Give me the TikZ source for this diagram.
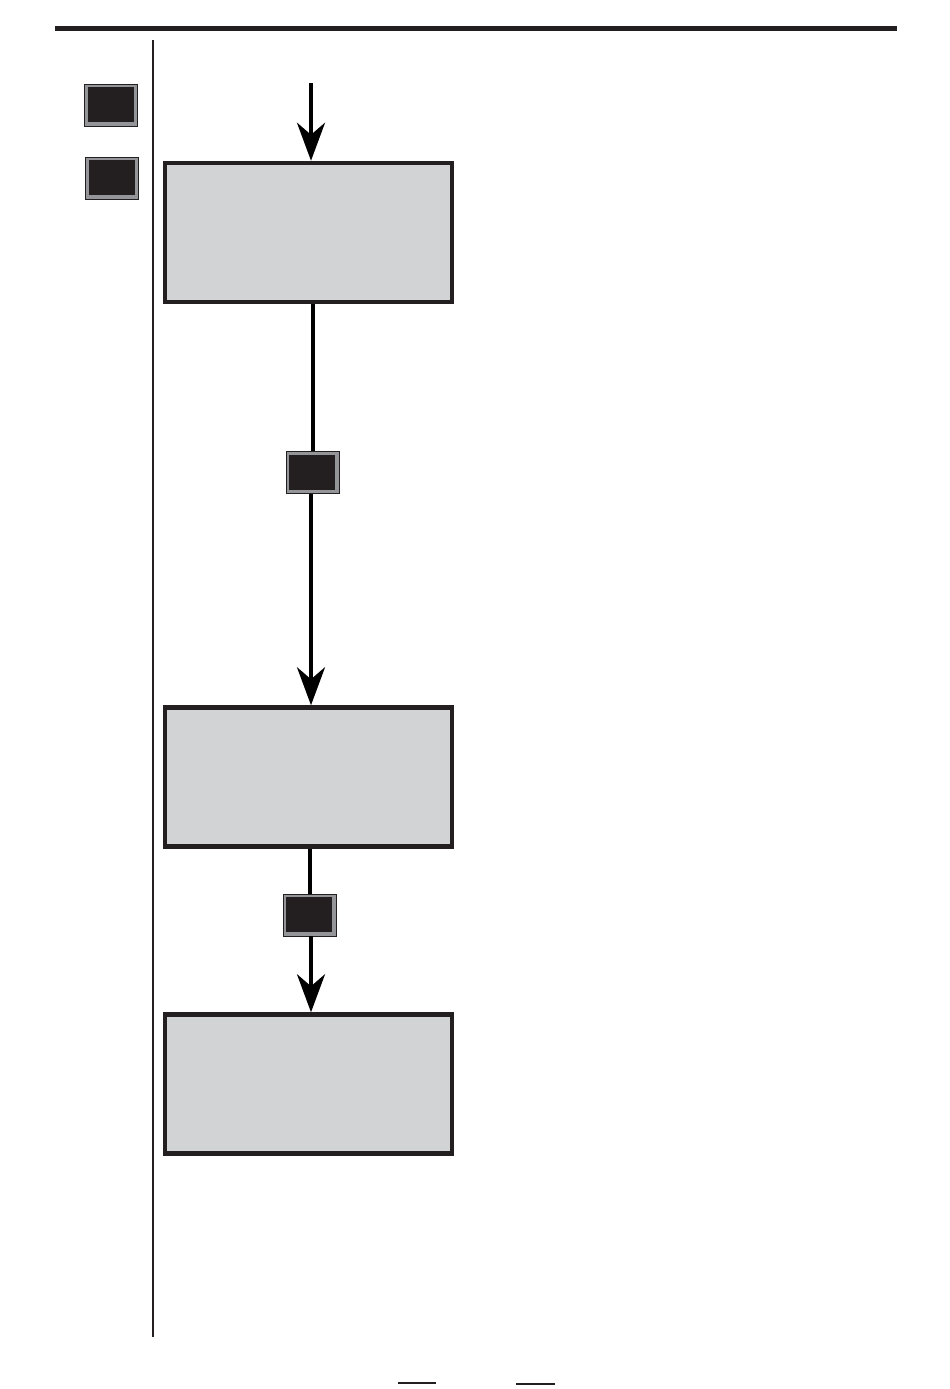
\documentclass[tikz,border=0pt]{standalone}
\usetikzlibrary{arrows.meta}
\definecolor{dark}{HTML}{231F20}
\definecolor{ringgray}{HTML}{939598}
\definecolor{boxgray}{HTML}{D1D3D4}
\tikzset{
  stepbox/.style={draw=dark, fill=boxgray, line width=4.5pt, minimum width=287pt, minimum height=139pt, inner sep=0pt},
  smallbox/.style={draw=dark, fill=ringgray, line width=1pt, minimum width=53pt, minimum height=42pt, inner sep=0pt,
    path picture={\fill[dark] ([shift={(3pt,-3pt)}]path picture bounding box.north west) rectangle ([shift={(-4pt,4pt)}]path picture bounding box.south east);}},
  flow/.style={draw=black, line width=4pt},
  flowarrow/.style={flow, -{Stealth[length=38pt,width=28pt,inset=12pt]}},
  rule/.style={draw=dark, line width=5pt},
  thin/.style={draw=dark, line width=1.5pt}
}
\begin{document}
\begin{tikzpicture}[x=1pt,y=-1pt]
\useasboundingbox (0,0) rectangle (950,1389);
\coordinate (r1) at (55,29);
\coordinate (r2) at (897,29);
\draw[rule] (r1) -- (r2);
\coordinate (v1) at (153,40);
\coordinate (v2) at (153,1337);
\draw[thin] (v1) -- (v2);
\node[smallbox] (s1) at (111,105) {};
\node[smallbox] (s2) at (112,178) {};
\node[stepbox] (b1) at (308.5,232.5) {};
\node[stepbox] (b2) at (308.5,777) {};
\node[stepbox] (b3) at (308.5,1084) {};
\node[smallbox] (s3) at (312.5,472.5) {};
\node[smallbox] (s4) at (309.5,915) {};
\coordinate (top) at (311,83);
\draw[flowarrow] (top) -- (top |- b1.north);
\draw[flow] (s3.north |- b1.south) -- (s3.north);
\coordinate (a2) at (311,494);
\draw[flowarrow] (a2) -- (a2 |- b2.north);
\draw[flow] (s4.north |- b2.south) -- (s4.north);
\coordinate (a3) at (311,936);
\draw[flowarrow] (a3) -- (a3 |- b3.north);
\coordinate (l1) at (398,1383);
\coordinate (l2) at (436,1383);
\coordinate (l3) at (516,1384);
\coordinate (l4) at (555,1384);
\draw[thin] (l1) -- (l2);
\draw[thin] (l3) -- (l4);
\end{tikzpicture}
\end{document}
